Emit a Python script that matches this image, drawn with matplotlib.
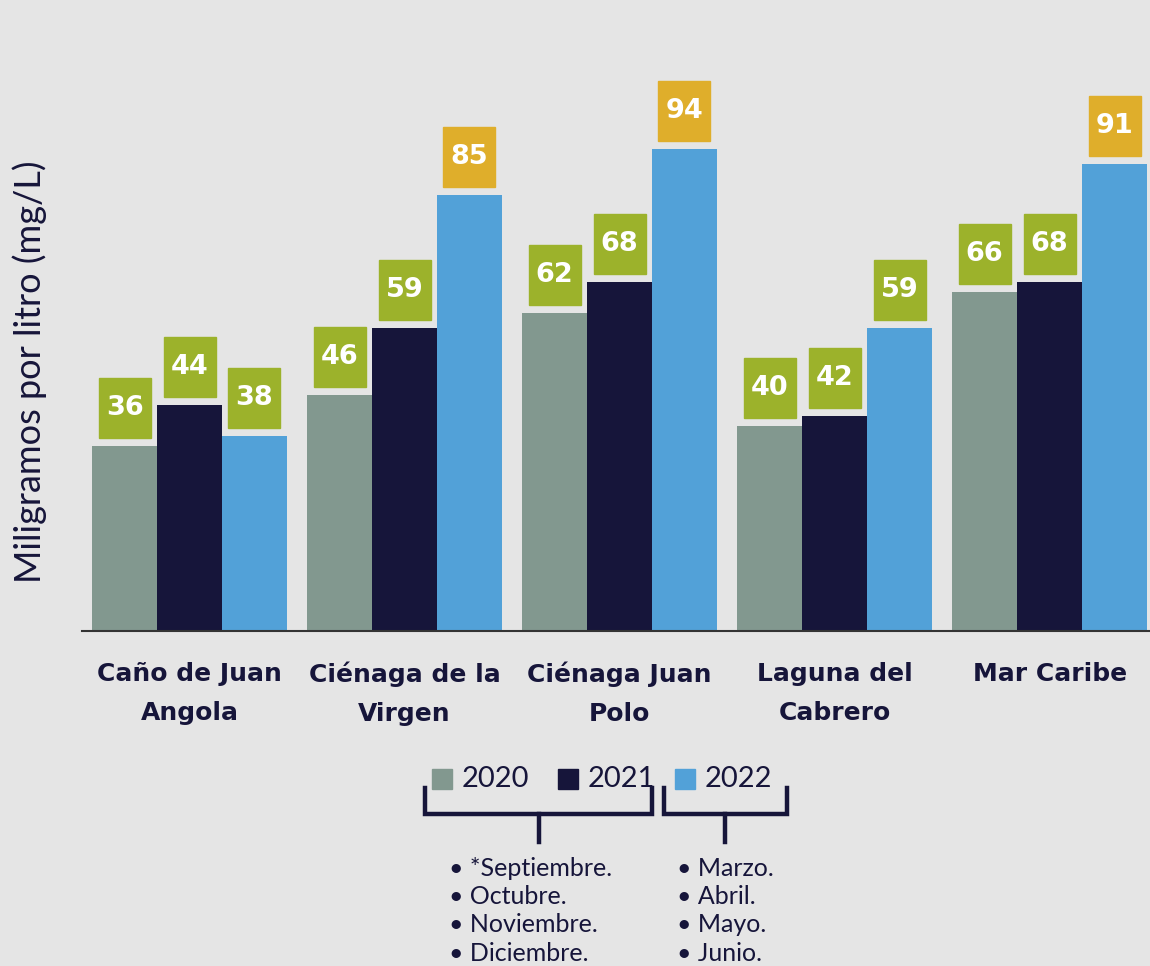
import matplotlib
matplotlib.use("Agg")
import matplotlib.pyplot as plt
from matplotlib.patches import Rectangle
import numpy as np

# data
sites = ["Caño de Juan\nAngola", "Ciénaga de la\nVirgen", "Ciénaga Juan\nPolo",
         "Laguna del\nCabrero", "Mar Caribe"]
years = ["2020", "2021", "2022"]
v2020 = [36, 46, 62, 40, 66]
v2021 = [44, 59, 68, 42, 68]
v2022 = [38, 85, 94, 59, 91]
months_a = ["• *Septiembre.", "• Octubre.", "• Noviembre.", "• Diciembre."]
months_b = ["• Marzo.", "• Abril.", "• Mayo.", "• Junio."]

bg = '#e5e5e5'
navy = '#16153a'
bar_colors = ['#82988f', '#16153a', '#52a1d8']
green = '#9cb22b'
gold = '#dfae2b'
light_font = ['Lato', 'DejaVu Sans']

W, H = 1150, 966
fig = plt.figure(figsize=(W / 100, H / 100), dpi=100, facecolor=bg)

# main axes, placed in pixels
ax_top, ax_base, ax_left, ax_right = 10, 631, 82, 1150
ax = fig.add_axes([ax_left / W, 1 - ax_base / H, (ax_right - ax_left) / W, (ax_base - ax_top) / H])
ax.set_facecolor(bg)

px_per_unit = 5.13
ax.set_ylim(0, (ax_base - ax_top) / px_per_unit)
ax.set_xlim(-0.5, 4.467)

x = np.arange(len(sites))
bw = 0.302
series = [v2020, v2021, v2022]
for k, vals in enumerate(series):
    xs = x + (k - 1) * bw
    ax.bar(xs, vals, width=bw, color=bar_colors[k], zorder=2)
    for xi, v in zip(xs, vals):
        box_w = 52 / 215
        box_h = 60 / px_per_unit
        gap = 8 / px_per_unit
        fc = gold if (k == 2 and v > 80) else green
        ax.add_patch(Rectangle((xi - box_w / 2, v + gap), box_w, box_h, color=fc, zorder=3))
        ax.text(xi, v + gap + box_h / 2, str(v), ha='center', va='center', color='white',
                fontsize=19.5, fontweight='bold', zorder=4)

for s in ['top', 'right', 'left']:
    ax.spines[s].set_visible(False)
ax.spines['bottom'].set_color('#333333')
ax.spines['bottom'].set_linewidth(1.5)
ax.set_yticks([])
ax.set_xticks(x)
ax.set_xticklabels(sites, fontsize=18, fontweight='bold', color=navy, linespacing=1.8)
ax.tick_params(axis='x', length=0, pad=22)

# overlay in pixel coordinates for the y label, legend and brackets
ov = fig.add_axes([0, 0, 1, 1], facecolor='none')
ov.set_xlim(0, W)
ov.set_ylim(H, 0)
ov.axis('off')

ov.text(30, 372, "Miligramos por litro (mg/L)", rotation=90, ha='center', va='center',
        fontsize=26, color=navy, family=light_font)

leg_x = [432, 558, 675]
for lx, yr, c in zip(leg_x, years, bar_colors):
    ov.add_patch(Rectangle((lx, 769), 20, 20, color=c))
    ov.text(lx + 30, 779, yr, ha='left', va='center', fontsize=21,
            color=navy, family=light_font)

lw = 3.2
ov.plot([425, 425, 652, 652], [788, 814, 814, 788], color=navy, lw=lw, solid_joinstyle='miter')
ov.plot([539, 539], [814, 842], color=navy, lw=lw)
ov.plot([664, 664, 787, 787], [788, 814, 814, 788], color=navy, lw=lw, solid_joinstyle='miter')
ov.plot([725, 725], [814, 842], color=navy, lw=lw)

for i, (a, b) in enumerate(zip(months_a, months_b)):
    yy = 868 + i * 28.5
    ov.text(449, yy, a, ha='left', va='center', fontsize=18,
            color=navy, family=light_font)
    ov.text(677, yy, b, ha='left', va='center', fontsize=18,
            color=navy, family=light_font)

fig.savefig("out.png", dpi=100, facecolor=bg)
